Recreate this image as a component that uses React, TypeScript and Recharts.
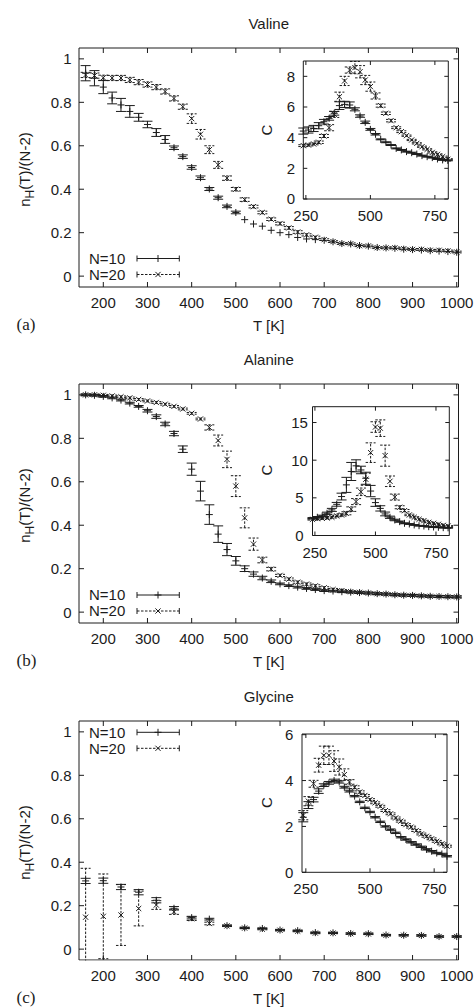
import React from 'react';
import { ScatterChart, Scatter, XAxis, YAxis, ErrorBar } from 'recharts';

const FONT = '"Liberation Sans", Arial, Helvetica, sans-serif';
const SERIF = '"Liberation Serif", "Times New Roman", serif';
const INK = '#1c1c1c';
const W = 474;
const PH = 336;
const AX = 0.01; // near-zero axis thickness so axes draw on the plot frame

// ---------- temperatures ----------
const tempsAB = [160, 180, 200, 220, 240, 260, 280, 300, 320, 340, 360, 380, 400, 420, 440, 460, 480, 500, 520, 540, 560, 580, 600, 620, 640, 660, 680, 700, 720, 740, 760, 780, 800, 820, 840, 860, 880, 900, 920, 940, 960, 980, 1000];
const tempsC = [160, 200, 240, 280, 320, 360, 400, 440, 480, 520, 560, 600, 640, 680, 720, 760, 800, 840, 880, 920, 960, 1000];
const tempsInset = [240, 260, 280, 300, 320, 340, 360, 380, 400, 420, 440, 460, 480, 500, 520, 540, 560, 580, 600, 620, 640, 660, 680, 700, 720, 740, 760, 780, 800];

// ---------- tick labels ----------
const mainXTicks = [200, 300, 400, 500, 600, 700, 800, 900, 1000];
const mainYTicks = [0, 0.2, 0.4, 0.6, 0.8, 1];
const insetXTicks = [250, 500, 750];
const valineInsetYTicks = [0, 2, 4, 6, 8];
const alanineInsetYTicks = [0, 5, 10, 15];
const glycineInsetYTicks = [0, 2, 4, 6];

// ---------- Valine n_H ----------
const valineN10 = [0.934, 0.911, 0.870, 0.820, 0.788, 0.758, 0.731, 0.698, 0.661, 0.629, 0.591, 0.550, 0.500, 0.453, 0.401, 0.361, 0.321, 0.293, 0.260, 0.240, 0.230, 0.211, 0.200, 0.191, 0.178, 0.171, 0.168, 0.165, 0.158, 0.150, 0.148, 0.141, 0.138, 0.132, 0.130, 0.128, 0.124, 0.122, 0.120, 0.117, 0.115, 0.113, 0.110];
const valineN10Err = [0.035, 0.035, 0.030, 0.027, 0.030, 0.027, 0.018, 0.015, 0.018, 0.018, 0.008, 0.008, 0.008, 0.008, 0.007, 0.007, 0.006, 0.006, 0, 0, 0, 0, 0, 0, 0, 0, 0, 0, 0, 0, 0, 0, 0, 0, 0, 0, 0, 0, 0, 0, 0, 0, 0];
const valineN20 = [0.926, 0.923, 0.913, 0.912, 0.912, 0.903, 0.893, 0.882, 0.870, 0.850, 0.818, 0.780, 0.725, 0.653, 0.582, 0.512, 0.451, 0.400, 0.352, 0.320, 0.293, 0.262, 0.242, 0.222, 0.203, 0.190, 0.179, 0.168, 0.159, 0.150, 0.149, 0.140, 0.139, 0.131, 0.130, 0.130, 0.126, 0.123, 0.123, 0.119, 0.119, 0.116, 0.111];
const valineN20Err = [0.012, 0.012, 0.012, 0.012, 0.012, 0.012, 0.012, 0.012, 0.012, 0.012, 0.012, 0.012, 0.022, 0.022, 0.018, 0.016, 0.010, 0.008, 0.008, 0.006, 0.006, 0.006, 0.006, 0.006, 0.006, 0.005, 0.005, 0.004, 0.004, 0.004, 0.004, 0.004, 0.004, 0.004, 0.004, 0.004, 0.004, 0.004, 0.004, 0.004, 0.004, 0.004, 0.004];

// ---------- Alanine n_H ----------
const alanineN10 = [1.000, 0.998, 0.993, 0.986, 0.976, 0.962, 0.947, 0.927, 0.900, 0.866, 0.822, 0.750, 0.658, 0.557, 0.449, 0.359, 0.288, 0.236, 0.200, 0.175, 0.157, 0.142, 0.130, 0.122, 0.115, 0.109, 0.104, 0.099, 0.097, 0.094, 0.092, 0.090, 0.088, 0.085, 0.083, 0.080, 0.078, 0.077, 0.075, 0.073, 0.072, 0.071, 0.070];
const alanineN10Err = [0.004, 0.004, 0.004, 0.004, 0.004, 0.004, 0.004, 0.006, 0.008, 0.008, 0.010, 0.015, 0.028, 0.045, 0.045, 0.038, 0.028, 0.020, 0.013, 0.010, 0.008, 0.006, 0.004, 0.004, 0.004, 0.004, 0.004, 0.004, 0.004, 0.004, 0.004, 0.004, 0.004, 0.004, 0.004, 0.004, 0.004, 0.004, 0.004, 0.004, 0.004, 0.004, 0.004];
const alanineN20 = [1.000, 1.000, 0.998, 0.995, 0.991, 0.986, 0.979, 0.972, 0.965, 0.957, 0.947, 0.935, 0.915, 0.889, 0.850, 0.790, 0.703, 0.580, 0.434, 0.313, 0.240, 0.198, 0.169, 0.152, 0.138, 0.129, 0.121, 0.112, 0.104, 0.099, 0.094, 0.091, 0.088, 0.085, 0.083, 0.080, 0.078, 0.077, 0.075, 0.073, 0.072, 0.071, 0.070];
const alanineN20Err = [0.004, 0.004, 0.004, 0.004, 0.004, 0.004, 0.004, 0.004, 0.004, 0.004, 0.004, 0.004, 0.004, 0.004, 0.012, 0.025, 0.038, 0.048, 0.046, 0.028, 0.013, 0.008, 0.005, 0.005, 0.005, 0.005, 0.005, 0.005, 0.005, 0.005, 0.005, 0.005, 0.005, 0.005, 0.005, 0.005, 0.005, 0.005, 0.005, 0.005, 0.005, 0.005, 0.005];

// ---------- Glycine n_H ----------
const glycineN10 = [0.314, 0.315, 0.286, 0.262, 0.225, 0.188, 0.145, 0.138, 0.108, 0.098, 0.095, 0.088, 0.085, 0.076, 0.075, 0.072, 0.071, 0.065, 0.064, 0.063, 0.058, 0.058];
const glycineN10Err = [0.012, 0.012, 0.012, 0.012, 0.012, 0.008, 0.006, 0.004, 0.003, 0.003, 0.003, 0.003, 0.003, 0.003, 0.003, 0.003, 0.003, 0.003, 0.003, 0.003, 0.003, 0.003];
const glycineN20 = [0.147, 0.151, 0.157, 0.187, 0.203, 0.172, 0.140, 0.118, 0.107, 0.097, 0.092, 0.087, 0.083, 0.074, 0.074, 0.071, 0.070, 0.064, 0.064, 0.063, 0.058, 0.058];
const glycineN20Err = [0.225, 0.195, 0.140, 0.080, 0.020, 0.012, 0.008, 0.006, 0.003, 0.003, 0.003, 0.003, 0.003, 0.003, 0.003, 0.003, 0.003, 0.003, 0.003, 0.003, 0.003, 0.003];

// ---------- Specific heat C (insets) ----------
const valineCN10 = [4.43, 4.50, 4.60, 4.78, 5.04, 5.26, 5.59, 6.09, 6.17, 6.13, 5.85, 5.41, 5.00, 4.54, 4.22, 3.89, 3.70, 3.52, 3.30, 3.20, 3.09, 3.02, 2.93, 2.83, 2.76, 2.70, 2.61, 2.55, 2.52];
const valineCN10Err = [0.20, 0.20, 0.20, 0.20, 0.15, 0.12, 0.12, 0.25, 0.20, 0.20, 0.10, 0.08, 0.08, 0.06, 0.05, 0.03, 0.03, 0.03, 0.03, 0.03, 0.03, 0.03, 0.03, 0.03, 0.03, 0.03, 0.03, 0.03, 0.03];
const valineCN20 = [3.48, 3.52, 3.59, 3.70, 4.11, 4.65, 5.52, 6.67, 7.70, 8.41, 8.57, 8.30, 7.76, 7.33, 6.72, 6.09, 5.59, 5.11, 4.65, 4.39, 4.13, 3.85, 3.63, 3.41, 3.24, 3.04, 2.91, 2.76, 2.59];
const valineCN20Err = [0.06, 0.06, 0.06, 0.08, 0.10, 0.20, 0.20, 0.30, 0.30, 0.20, 0.40, 0.40, 0.30, 0.30, 0.20, 0.10, 0.08, 0.08, 0.06, 0.06, 0.04, 0.04, 0.04, 0.04, 0.04, 0.04, 0.04, 0.04, 0.04];

const alanineCN10 = [2.28, 2.42, 2.60, 2.95, 3.40, 4.14, 5.17, 6.72, 8.50, 9.25, 8.70, 7.60, 5.90, 4.37, 3.60, 2.86, 2.42, 2.06, 1.84, 1.62, 1.53, 1.40, 1.30, 1.26, 1.17, 1.13, 1.09, 1.04, 1.02];
const alanineCN10Err = [0.10, 0.10, 0.10, 0.15, 0.20, 0.25, 0.45, 1.00, 1.20, 0.80, 0.50, 0.80, 0.75, 0.50, 0.35, 0.25, 0.15, 0.10, 0.08, 0.06, 0.05, 0.05, 0.05, 0.05, 0.05, 0.05, 0.05, 0.05, 0.05];
const alanineCN20 = [2.15, 2.24, 2.28, 2.33, 2.42, 2.60, 2.73, 2.95, 3.50, 4.50, 5.80, 7.47, 11.0, 14.4, 14.25, 10.6, 7.20, 5.10, 3.75, 3.30, 2.73, 2.42, 2.15, 1.97, 1.75, 1.62, 1.49, 1.35, 1.26];
const alanineCN20Err = [0.10, 0.10, 0.10, 0.10, 0.10, 0.10, 0.15, 0.20, 0.30, 0.40, 0.50, 0.80, 1.30, 0.70, 1.10, 1.40, 0.70, 0.40, 0.20, 0.15, 0.10, 0.08, 0.06, 0.05, 0.05, 0.05, 0.05, 0.05, 0.05];

const glycineCN10 = [2.40, 2.93, 3.17, 3.54, 3.80, 3.90, 4.00, 3.94, 3.71, 3.54, 3.32, 3.07, 2.81, 2.63, 2.40, 2.20, 2.00, 1.86, 1.72, 1.53, 1.43, 1.31, 1.21, 1.11, 1.00, 0.92, 0.84, 0.80, 0.70];
const glycineCN10Err = [0.20, 0.15, 0.10, 0.10, 0.06, 0.06, 0.06, 0.05, 0.04, 0.04, 0.03, 0.03, 0.03, 0.03, 0.03, 0.03, 0.03, 0.03, 0.03, 0.03, 0.03, 0.03, 0.03, 0.03, 0.03, 0.03, 0.03, 0.03, 0.03];
const glycineCN20 = [2.49, 3.10, 3.86, 4.67, 5.10, 5.10, 4.85, 4.59, 4.26, 3.94, 3.71, 3.50, 3.35, 3.17, 3.03, 2.88, 2.69, 2.55, 2.37, 2.23, 2.08, 1.97, 1.82, 1.67, 1.57, 1.46, 1.35, 1.24, 1.14];
const glycineCN20Err = [0.20, 0.20, 0.15, 0.30, 0.40, 0.40, 0.45, 0.35, 0.25, 0.10, 0.06, 0.05, 0.04, 0.04, 0.04, 0.04, 0.04, 0.04, 0.04, 0.04, 0.04, 0.04, 0.04, 0.04, 0.04, 0.04, 0.04, 0.04, 0.04];

type Row = { T: number; v: number; e: number };
const toRows = (t: number[], v: number[], e: number[]): Row[] => t.map((T, i) => ({ T, v: v[i], e: e[i] }));

const PlusShape = (p: any) => {
  const { cx, cy } = p;
  if (cx == null || cy == null) return <g />;
  const s = 3.5;
  return <path d={`M${cx - s},${cy}H${cx + s}M${cx},${cy - s}V${cy + s}`} stroke={INK} strokeWidth={1} fill="none" />;
};
const CrossShape = (p: any) => {
  const { cx, cy } = p;
  if (cx == null || cy == null) return <g />;
  const s = 2.6;
  return <path d={`M${cx - s},${cy - s}L${cx + s},${cy + s}M${cx - s},${cy + s}L${cx + s},${cy - s}`} stroke={INK} strokeWidth={1} fill="none" />;
};

type Box = { l: number; r: number; t: number; b: number };
type PlotProps = {
  box: Box;
  xDomain: [number, number];
  yDomain: [number, number];
  xTicks: number[];
  yTicks: number[];
  tickLen: number;
  xLabelOff: number;
  yLabelX: number;
  yAnchor: 'end' | 'middle';
  clipY: boolean;
  s10: Row[];
  s20: Row[];
};

function Plot(props: PlotProps) {
  const { box, xDomain, yDomain, xTicks, yTicks, tickLen, xLabelOff, yLabelX, yAnchor, clipY, s10, s20 } = props;
  const margin = { left: box.l - AX, right: W - box.r - AX, top: box.t - AX, bottom: PH - box.b - AX };
  const axisLine = { stroke: INK, strokeWidth: 1 };
  const txt = { fontFamily: FONT, fontSize: 15, fill: INK };
  return (
    <ScatterChart width={W} height={PH} margin={margin}>
      <XAxis
        type="number" dataKey="T" domain={xDomain} ticks={xTicks} interval={0}
        height={AX} tickSize={0} tickMargin={0} tickLine={false} axisLine={axisLine}
        tick={(p: any) => (
          <g>
            <line x1={p.x} x2={p.x} y1={p.y} y2={p.y - tickLen} stroke={INK} strokeWidth={1} />
            <text x={p.x} y={p.y + xLabelOff} textAnchor="middle" {...txt}>{String(p.payload.value)}</text>
          </g>
        )}
      />
      <XAxis
        xAxisId="m" orientation="top" type="number" dataKey="T" domain={xDomain} ticks={xTicks} interval={0} allowDataOverflow
        height={AX} tickSize={0} tickMargin={0} tickLine={false} axisLine={axisLine}
        tick={(p: any) => <line x1={p.x} x2={p.x} y1={p.y} y2={p.y + tickLen} stroke={INK} strokeWidth={1} />}
      />
      <YAxis
        type="number" dataKey="v" domain={yDomain} ticks={yTicks} interval={0} allowDataOverflow={clipY}
        width={AX} tickSize={0} tickMargin={0} tickLine={false} axisLine={axisLine}
        tick={(p: any) => (
          <g>
            <line x1={p.x} x2={p.x + tickLen} y1={p.y} y2={p.y} stroke={INK} strokeWidth={1} />
            <text x={yLabelX} y={p.y} dy="0.36em" textAnchor={yAnchor} {...txt}>{String(p.payload.value)}</text>
          </g>
        )}
      />
      <YAxis
        yAxisId="m" orientation="right" type="number" dataKey="v" domain={yDomain} ticks={yTicks} interval={0} allowDataOverflow
        width={AX} tickSize={0} tickMargin={0} tickLine={false} axisLine={axisLine}
        tick={(p: any) => <line x1={p.x} x2={p.x - tickLen} y1={p.y} y2={p.y} stroke={INK} strokeWidth={1} />}
      />
      <Scatter name="N=10" data={s10} shape={PlusShape} isAnimationActive={false}>
        <ErrorBar dataKey="e" direction="y" width={5} stroke={INK} strokeWidth={1} isAnimationActive={false} />
      </Scatter>
      <Scatter name="N=20" data={s20} shape={CrossShape} isAnimationActive={false}>
        <ErrorBar dataKey="e" direction="y" width={5} stroke={INK} strokeWidth={1} strokeDasharray="2.5 1.5" isAnimationActive={false} />
      </Scatter>
    </ScatterChart>
  );
}

const mainBox: Box = { l: 79, r: 458.5, t: 48, b: 287 };
const mainXDomain: [number, number] = [145, 1004];
const mainYDomain: [number, number] = [-0.05, 1.05];

type PanelProps = {
  top: number;
  title: string;
  letter: string;
  m10: Row[];
  m20: Row[];
  c10: Row[];
  c20: Row[];
  insetBox: Box;
  insetXDomain: [number, number];
  insetYDomain: [number, number];
  insetYTicks: number[];
  insetYLabelX: number;
  insetXLabelOff: number;
  cY: number;
  legendY: number;
  clipMain: boolean;
};

function Legend({ y }: { y: number }) {
  const txt = { fontFamily: FONT, fontSize: 15, fill: INK };
  const x0 = 137;
  const x1 = 179.3;
  const xm = 158;
  const y2 = y + 16;
  return (
    <g>
      <text x={89} y={y} dy="0.36em" {...txt}>N=10</text>
      <line x1={x0} x2={x1} y1={y} y2={y} stroke={INK} strokeWidth={1} />
      <line x1={x0} x2={x0} y1={y - 3} y2={y + 3} stroke={INK} strokeWidth={1} />
      <line x1={x1} x2={x1} y1={y - 3} y2={y + 3} stroke={INK} strokeWidth={1} />
      <PlusShape cx={xm} cy={y} />
      <text x={89} y={y2} dy="0.36em" {...txt}>N=20</text>
      <line x1={x0} x2={x1} y1={y2} y2={y2} stroke={INK} strokeWidth={1} strokeDasharray="2.5 1.5" />
      <line x1={x0} x2={x0} y1={y2 - 3} y2={y2 + 3} stroke={INK} strokeWidth={1} />
      <line x1={x1} x2={x1} y1={y2 - 3} y2={y2 + 3} stroke={INK} strokeWidth={1} />
      <CrossShape cx={xm} cy={y2} />
    </g>
  );
}

function Panel(p: PanelProps) {
  const txt = { fontFamily: FONT, fontSize: 15, fill: INK };
  const cx = (mainBox.l + mainBox.r) / 2;
  return (
    <div style={{ position: 'absolute', left: 0, top: p.top, width: W, height: PH }}>
      <div style={{ position: 'absolute', left: 0, top: 0 }}>
        <Plot
          box={mainBox} xDomain={mainXDomain} yDomain={mainYDomain} xTicks={mainXTicks} yTicks={mainYTicks}
          tickLen={5} xLabelOff={21.3} yLabelX={71.5} yAnchor="end" clipY={p.clipMain} s10={p.m10} s20={p.m20}
        />
      </div>
      <div style={{ position: 'absolute', left: 0, top: 0 }}>
        <Plot
          box={p.insetBox} xDomain={p.insetXDomain} yDomain={p.insetYDomain} xTicks={insetXTicks} yTicks={p.insetYTicks}
          tickLen={4} xLabelOff={p.insetXLabelOff} yLabelX={p.insetYLabelX} yAnchor="middle" clipY={false} s10={p.c10} s20={p.c20}
        />
      </div>
      <svg width={W} height={PH} style={{ position: 'absolute', left: 0, top: 0, pointerEvents: 'none' }}>
        {p.clipMain && (
          <rect x={mainBox.l} y={mainBox.b + 0.6} width={mainBox.r - mainBox.l + 1} height={8} fill="#fff" />
        )}
        <text x={cx} y={29.3} textAnchor="middle" {...txt}>{p.title}</text>
        <text x={cx} y={330.5} textAnchor="middle" {...txt}>T [K]</text>
        <text x={16.5} y={329.5} fontFamily={SERIF} fontSize={17} fill={INK}>{p.letter}</text>
        <text transform="translate(29.5,169.5) rotate(-90)" textAnchor="middle" {...txt}>
          n<tspan dy={4} fontSize={12}>H</tspan><tspan dy={-4}>(T)/(N-2)</tspan>
        </text>
        <text transform={`translate(271.7,${p.cY}) rotate(-90)`} textAnchor="middle" {...txt}>C</text>
        <Legend y={p.legendY} />
      </svg>
    </div>
  );
}

export default function App() {
  return (
    <div style={{ position: 'absolute', left: 0, top: 0, width: W, height: 1008, background: '#fff' }}>
      <Panel
        top={0} title="Valine" letter="(a)"
        m10={toRows(tempsAB, valineN10, valineN10Err)} m20={toRows(tempsAB, valineN20, valineN20Err)}
        c10={toRows(tempsInset, valineCN10, valineCN10Err)} c20={toRows(tempsInset, valineCN20, valineCN20Err)}
        insetBox={{ l: 303.3, r: 448.3, t: 61, b: 199 }} insetXDomain={[240, 802]} insetYDomain={[0, 9]}
        insetYTicks={valineInsetYTicks} insetYLabelX={290.8} insetXLabelOff={21.7} cY={130} legendY={258.5} clipMain={false}
      />
      <Panel
        top={336} title="Alanine" letter="(b)"
        m10={toRows(tempsAB, alanineN10, alanineN10Err)} m20={toRows(tempsAB, alanineN20, alanineN20Err)}
        c10={toRows(tempsInset, alanineCN10, alanineCN10Err)} c20={toRows(tempsInset, alanineCN20, alanineCN20Err)}
        insetBox={{ l: 312.5, r: 449.3, t: 70.7, b: 199.5 }} insetXDomain={[240, 805]} insetYDomain={[0, 17.1]}
        insetYTicks={alanineInsetYTicks} insetYLabelX={299.5} insetXLabelOff={22} cY={134} legendY={259} clipMain={false}
      />
      <Panel
        top={673} title="Glycine" letter="(c)"
        m10={toRows(tempsC, glycineN10, glycineN10Err)} m20={toRows(tempsC, glycineN20, glycineN20Err)}
        c10={toRows(tempsInset, glycineCN10, glycineCN10Err)} c20={toRows(tempsInset, glycineCN20, glycineCN20Err)}
        insetBox={{ l: 302, r: 447, t: 61, b: 199.3 }} insetXDomain={[235, 795]} insetYDomain={[0, 6.03]}
        insetYTicks={glycineInsetYTicks} insetYLabelX={289.2} insetXLabelOff={21.7} cY={129.7} legendY={59.3} clipMain={true}
      />
    </div>
  );
}
